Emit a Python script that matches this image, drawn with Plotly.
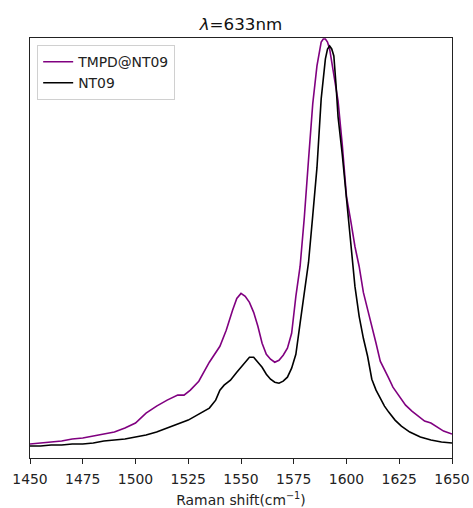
import plotly.graph_objects as go

# Raman shift (cm^-1) and intensity (a.u.) for each sample
shift_tmpd = [1450, 1455, 1460, 1465, 1470, 1475, 1480, 1485, 1490, 1495, 1500, 1505,
              1510, 1515, 1520, 1523, 1526, 1530, 1535, 1540, 1543, 1546, 1548, 1550,
              1552, 1554, 1556, 1558, 1560, 1562, 1564, 1566, 1568, 1570, 1572, 1574,
              1576, 1578, 1580, 1582, 1584, 1586, 1588, 1589, 1590, 1591, 1592, 1594,
              1596, 1598, 1600, 1602, 1604, 1606, 1608, 1610, 1612, 1614, 1616, 1618,
              1620, 1622, 1625, 1628, 1631, 1634, 1637, 1640, 1643, 1646, 1650]
int_tmpd = [14, 15, 16, 17, 19, 20, 22, 24, 26, 30, 35, 45,
            52, 58, 63, 63, 68, 77, 96, 112, 128, 148, 160, 165,
            162, 156, 146, 132, 115, 104, 99, 96, 98, 103, 110, 125,
            162, 192, 241, 299, 355, 393, 417, 420, 420, 417, 410, 384,
            358, 314, 262, 238, 212, 192, 166, 149, 133, 115, 97, 89,
            80, 71, 62, 53, 47, 42, 37, 35, 31, 27, 24]

shift_nt09 = [1450, 1455, 1460, 1465, 1470, 1475, 1480, 1485, 1490, 1495, 1500, 1505,
              1510, 1515, 1520, 1525, 1530, 1535, 1538, 1540, 1542, 1545, 1548, 1550,
              1552, 1554, 1556, 1558, 1560, 1562, 1564, 1566, 1568, 1570, 1572, 1574,
              1576, 1578, 1580, 1582, 1584, 1586, 1588, 1590, 1591, 1592, 1593, 1594,
              1595, 1596, 1598, 1600, 1602, 1604, 1606, 1608, 1610, 1612, 1614, 1616,
              1618, 1620, 1623, 1626, 1630, 1635, 1640, 1645, 1650]
int_nt09 = [12, 12, 13, 13, 14, 14, 15, 17, 18, 19, 21, 23,
            26, 30, 34, 38, 44, 50, 58, 68, 73, 78, 86, 91,
            97, 101, 101, 96, 91, 84, 79, 76, 75, 77, 81, 90,
            104, 135, 165, 196, 243, 291, 360, 400, 410, 413, 410, 403,
            375, 342, 304, 258, 218, 172, 142, 120, 102, 79, 68, 60,
            52, 46, 38, 32, 26, 21, 18, 16, 15]

x_ticks = [1450, 1475, 1500, 1525, 1550, 1575, 1600, 1625, 1650]

fig = go.Figure()
fig.add_trace(go.Scatter(x=shift_tmpd, y=int_tmpd, mode="lines", name="TMPD@NT09",
                         line=dict(color="#800080", width=1.6)))
fig.add_trace(go.Scatter(x=shift_nt09, y=int_nt09, mode="lines", name="NT09",
                         line=dict(color="#000000", width=1.6)))

font = "DejaVu Sans, sans-serif"
fig.update_layout(
    width=473, height=508,
    margin=dict(l=30, r=21, t=38, b=50, autoexpand=False),
    paper_bgcolor="white", plot_bgcolor="white",
    font=dict(family=font, size=13.9, color="#222"),
    title=dict(text="<i>λ</i>=633nm", x=0.5, xanchor="center", y=0.953, yanchor="middle",
               xref="paper", font=dict(family=font, size=16.7, color="#111")),
    showlegend=True,
    legend=dict(x=0.017, y=0.983, xanchor="left", yanchor="top",
                bgcolor="rgba(255,255,255,0.8)", bordercolor="#d0d0d0", borderwidth=1,
                font=dict(family=font, size=13.9, color="#222"),
                tracegroupgap=0, itemwidth=30),
)
fig.update_xaxes(range=[1450, 1650], tickvals=x_ticks, ticks="outside", ticklen=5,
                 tickwidth=1, tickcolor="#222", showgrid=False, zeroline=False,
                 showline=True, linecolor="#222", linewidth=1, mirror=True,
                 automargin=False, ticklabelstandoff=3,
                 tickfont=dict(family=font, size=13.9, color="#222"),
                 title=dict(text="Raman shift(cm<sup>−1</sup>)", standoff=12,
                            font=dict(family=font, size=13.9, color="#222")))
fig.update_yaxes(range=[0, 421], showticklabels=False, ticks="", showgrid=False,
                 automargin=False,
                 zeroline=False, showline=True, linecolor="#222", linewidth=1, mirror=True)

fig.write_html("out.html")
